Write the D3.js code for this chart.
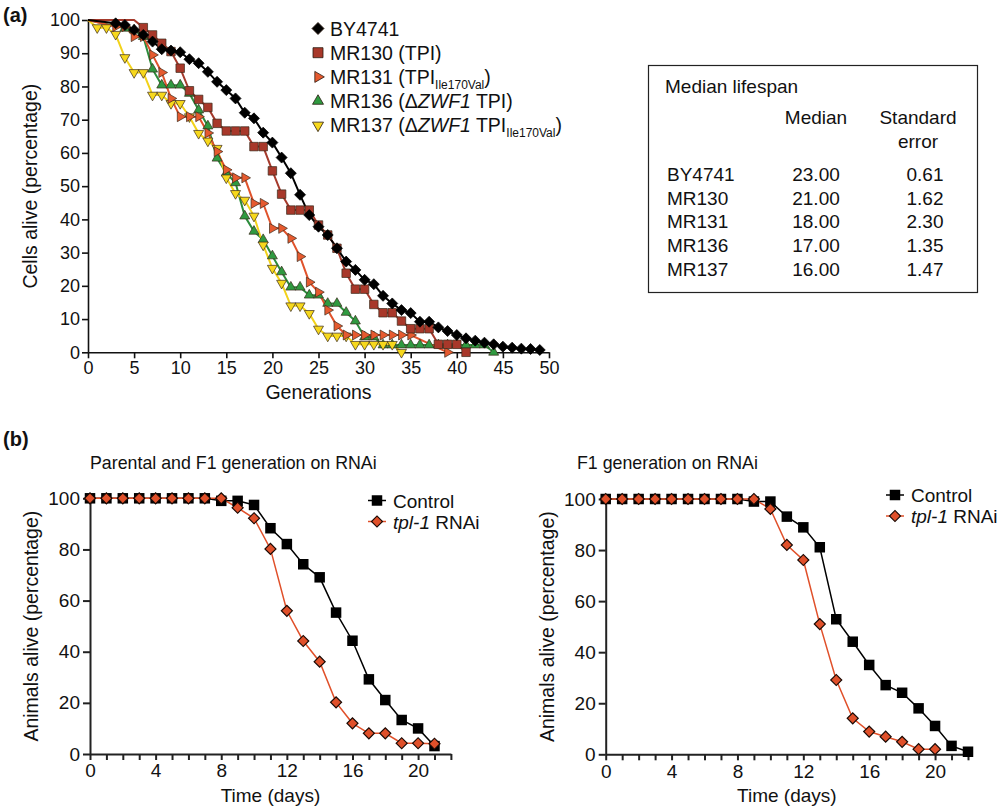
<!DOCTYPE html>
<html><head><meta charset="utf-8">
<script src="https://cdn.jsdelivr.net/npm/d3@7"></script>
<style>
body{margin:0;background:#fff}
text{font-family:"Liberation Sans",Arial,Helvetica,sans-serif;fill:#111}
</style>
</head><body>
<svg id="c" width="1000" height="807"></svg>
<script>
// ---------- Panel (a) data: [generation, % alive] ----------
const BY4741 = [[0,100],[3,99],[4,98.5],[5,97],[6,95.5],[7,93.5],[8,91.2],[9,90.8],[10,90.3],[11,88.2],[12,87],[13,84.4],[14,81.4],[15,78.9],[16,76.4],[17,72.1],[18,70.4],[19,66.1],[20,63.1],[21,58.6],[22,53.9],[23,47.4],[24,41.3],[25,37.8],[26,35.3],[27,31.3],[28,27.3],[29,24.8],[30,21.8],[31,20.5],[32,17],[33,14.7],[34,12.7],[35,11.8],[36,9.2],[37,9.2],[38,7.5],[39,6.4],[40,5.2],[41,4.2],[42,3.5],[43,2.9],[44,2.4],[45,1.7],[46,1.4],[47,1.1],[48,1.0],[49,0.7]];
const MR130 = [[0,100],[5,100],[6,97.7],[7,95.5],[8,93],[9,90.5],[10,85.5],[11,78.7],[12,76.1],[13,73.7],[14,68.9],[15,66.6],[16,66.6],[17,66.6],[18,61.9],[19,61.9],[20,54.6],[21,47.6],[22,42.8],[23,42.8],[24,42.8],[25,38.3],[26,35.3],[27,31.3],[28,23.8],[29,19],[30,19],[31,14.4],[32,11.9],[33,11.9],[34,9.4],[35,7.1],[36,7.1],[37,7.1],[38,2.4],[39,2.4],[40,2.4],[41,0]];
const MR131 = [[0,100],[3,98],[4,98],[5,95],[6,95],[7,89.5],[8,84.2],[9,76.4],[10,70.9],[11,70.9],[12,70.9],[13,66],[14,60.4],[15,54.9],[16,52.5],[17,52.5],[18,44.8],[19,44.8],[20,37.3],[21,37.3],[22,34.3],[23,28.8],[24,21.1],[25,18.1],[26,12.7],[27,7.9],[28,5.2],[29,5.2],[30,5.2],[31,5.2],[32,5.2],[33,5.2],[34,5.2],[35,5.2],[39,0]];
const MR136 = [[0,100],[4,97.5],[5,97],[6,95],[7,85.2],[8,80.4],[9,80.4],[10,80.4],[11,77.9],[12,72.9],[13,68.1],[14,58.4],[15,53.9],[16,51],[17,41],[18,36.4],[19,33.9],[20,29],[21,24.2],[22,19.6],[23,19.6],[24,17.2],[25,17.2],[26,14.7],[27,14.7],[28,12],[29,9.4],[30,4.6],[31,4.6],[32,2.2],[33,2.2],[34,2.2],[35,2.2],[36,2.2],[37,2.2],[38,2.2],[39,2.2],[40,2.2],[41,2.2],[42,2.2],[43,2.2],[44,0]];
const MR137 = [[0,100],[1,97.7],[2,97.7],[3,95.7],[4,88.7],[5,84.2],[6,84.2],[7,77.4],[8,77.4],[9,74.9],[10,74.9],[11,70.9],[12,65.9],[13,63.6],[14,61.4],[15,52.5],[16,47.8],[17,45.8],[18,41],[19,32.3],[20,25.3],[21,20.8],[22,14],[23,14],[24,11.7],[25,7],[26,4.9],[27,4.9],[28,4.9],[29,2.4],[30,2.4],[31,2.4],[32,2.4],[33,2.4],[34,0]];
const yTicksA = [0,10,20,30,40,50,60,70,80,90,100];
const xTicksA = [0,5,10,15,20,25,30,35,40,45,50];

// table
const tableStrains = ["BY4741","MR130","MR131","MR136","MR137"];
const tableMedian = ["23.00","21.00","18.00","17.00","16.00"];
const tableSE = ["0.61","1.62","2.30","1.35","1.47"];

// ---------- Panel (b) data ----------
const daysLeft = [0,1,2,3,4,5,6,7,8,9,10,11,12,13,14,15,16,17,18,19,20,21];
const controlLeft = [100,100,100,100,100,100,100,100,99,99,97.4,88.3,82.1,74.2,69.1,55.3,44.3,29.2,21.1,13.3,10,3.1];
const rnaiLeft = [100,100,100,100,100,100,100,100,100,96.3,92.2,80.2,56,44.2,36.1,20.2,12,8.1,8.1,4.2,4.2,4.0];
const daysRightControl = [0,1,2,3,4,5,6,7,8,9,10,11,12,13,14,15,16,17,18,19,20,21,22];
const controlRight = [100,100,100,100,100,100,100,100,100,99,99,93.1,88.9,81.1,52.9,44.1,35,27.1,24.1,18,11.1,3.3,1];
const daysRightRnai = [0,1,2,3,4,5,6,7,8,9,10,11,12,13,14,15,16,17,18,19,20];
const rnaiRight = [100,100,100,100,100,100,100,100,100,100,96.1,82,76.1,51,29.1,14.1,8.9,6.9,4.9,2,2];
const yTicksB = [0,20,40,60,80,100];

const svg = d3.select("#c");
const FONT = '"Liberation Sans",Arial,Helvetica,sans-serif';

function markerPath(kind, size){
  if(kind==="diamond") return d3.symbol(d3.symbolSquare, size*size/2)();
  if(kind==="square") return d3.symbol(d3.symbolSquare, size*size)();
  return d3.symbol(d3.symbolTriangle, size*size*0.433)();
}
function markerRot(kind){
  return {diamond:45, square:0, up:0, right:90, down:180}[kind];
}

// ================= Panel (a) =================
const xA = d3.scaleLinear().domain([0,50]).range([88,549]);
const yA = d3.scaleLinear().domain([0,100]).range([352.3,20]);

const gA = svg.append("g");
gA.append("text").attr("x",3).attr("y",22).attr("font-size",20).attr("font-weight","bold").text("(a)");

const axY = gA.append("g").attr("transform",`translate(${xA(0)},0)`)
  .call(d3.axisLeft(yA).tickValues(yTicksA).tickSize(6).tickSizeOuter(0).tickPadding(2));
const axX = gA.append("g").attr("transform",`translate(0,${yA(0)})`)
  .call(d3.axisBottom(xA).tickValues(xTicksA).tickSize(6).tickSizeOuter(0).tickPadding(3));
[axY,axX].forEach(a=>{
  a.selectAll("path,line").attr("stroke","#111").attr("stroke-width",1.6);
  a.selectAll("text").attr("font-size",18).attr("font-family",FONT).attr("fill","#111");
});
gA.append("text").attr("transform",`translate(37,${(yA(0)+yA(100))/2}) rotate(-90)`)
  .attr("text-anchor","middle").attr("font-size",19.5).text("Cells alive (percentage)");
gA.append("text").attr("x",(xA(0)+xA(50))/2).attr("y",399).attr("text-anchor","middle")
  .attr("font-size",19.5).text("Generations");

const seriesA = [
  {name:"MR136", data:MR136, color:"#2c8c3c", fill:"#2f9a40", kind:"up", size:10},
  {name:"MR137", data:MR137, color:"#f2d21a", fill:"#f7d81c", kind:"down", size:10},
  {name:"MR131", data:MR131, color:"#e0532c", fill:"#e65a2f", kind:"right", size:10},
  {name:"MR130", data:MR130, color:"#a53a2c", fill:"#a8382a", kind:"square", size:8.5},
  {name:"BY4741", data:BY4741, color:"#000", fill:"#000", kind:"diamond", size:11}
];
const lineA = d3.line().x(d=>xA(d[0])).y(d=>yA(d[1]));
seriesA.forEach(s=>{
  gA.append("path").datum(s.data).attr("d",lineA).attr("fill","none")
    .attr("stroke",s.color).attr("stroke-width",2);
});
seriesA.forEach(s=>{
  gA.selectAll(null).data(s.data.filter(d=>d[1]<100)).enter().append("path")
    .attr("d",markerPath(s.kind,s.size))
    .attr("transform",d=>`translate(${xA(d[0])},${yA(d[1])}) rotate(${markerRot(s.kind)})`)
    .attr("fill",s.fill).attr("stroke",s.kind==="diamond"?"#000":"#3a2a1a").attr("stroke-width",0.7);
});

// legend (a)
const legA = [
  {kind:"diamond", fill:"#000", size:12, parts:[["BY4741"]]},
  {kind:"square", fill:"#a8382a", size:10, parts:[["MR130 (TPI)"]]},
  {kind:"right", fill:"#e65a2f", size:11, parts:[["MR131 (TPI"],["Ile170Val","sub"],[")","up"]]},
  {kind:"up", fill:"#2f9a40", size:11, parts:[["MR136 (Δ"],["ZWF1","it"],[" TPI)"]]},
  {kind:"down", fill:"#f7d81c", size:11, parts:[["MR137 (Δ"],["ZWF1","it"],[" TPI"],["Ile170Val","sub"],[")","up"]]}
];
legA.forEach((r,i)=>{
  const cy = 28.5 + i*24.2;
  gA.append("path").attr("d",markerPath(r.kind,r.size))
    .attr("transform",`translate(318,${cy}) rotate(${markerRot(r.kind)})`)
    .attr("fill",r.fill).attr("stroke","#2a1a10").attr("stroke-width",0.8);
  const t = gA.append("text").attr("x",330).attr("y",cy+7).attr("font-size",19.5);
  r.parts.forEach(p=>{
    const ts = t.append("tspan").text(p[0]);
    if(p[1]==="sub") ts.attr("font-size",12).attr("dy",5);
    if(p[1]==="up") ts.attr("dy",-5);
    if(p[1]==="it") ts.attr("font-style","italic");
  });
});

// table box
const gT = svg.append("g");
gT.append("rect").attr("x",648.5).attr("y",65.5).attr("width",329).attr("height",227)
  .attr("fill","none").attr("stroke","#222").attr("stroke-width",1.2);
const TF = 19;
gT.append("text").attr("x",665).attr("y",93).attr("font-size",TF).text("Median lifespan");
gT.append("text").attr("x",816).attr("y",124).attr("text-anchor","middle").attr("font-size",TF).text("Median");
gT.append("text").attr("x",918).attr("y",124).attr("text-anchor","middle").attr("font-size",TF).text("Standard");
gT.append("text").attr("x",918).attr("y",148).attr("text-anchor","middle").attr("font-size",TF).text("error");
tableStrains.forEach((s,i)=>{
  const y = 181 + i*23.7;
  gT.append("text").attr("x",667).attr("y",y).attr("font-size",TF).text(s);
  gT.append("text").attr("x",816).attr("y",y).attr("text-anchor","middle").attr("font-size",TF).text(tableMedian[i]);
  gT.append("text").attr("x",925).attr("y",y).attr("text-anchor","middle").attr("font-size",TF).text(tableSE[i]);
});

// ================= Panel (b) =================
svg.append("text").attr("x",3).attr("y",446).attr("font-size",20).attr("font-weight","bold").text("(b)");

function panelB(opt){
  const g = svg.append("g");
  const x = d3.scaleLinear().domain([0,22]).range(opt.xr);
  const y = d3.scaleLinear().domain([0,100]).range(opt.yr);
  g.append("text").attr("x",opt.titleX).attr("y",469).attr("font-size",17.8).text(opt.title);
  const ay = g.append("g").attr("transform",`translate(${x(0)},0)`)
    .call(d3.axisLeft(y).tickValues(yTicksB).tickSize(7).tickSizeOuter(0).tickPadding(3));
  const ax = g.append("g").attr("transform",`translate(0,${y(0)})`)
    .call(d3.axisBottom(x).tickValues(d3.range(0,23)).tickFormat(d=>d%4===0?d:"").tickSize(6).tickSizeOuter(0).tickPadding(4));
  [ay,ax].forEach(a=>{
    a.selectAll("path,line").attr("stroke","#222").attr("stroke-width",2);
    a.selectAll("text").attr("font-size",19).attr("font-family",FONT).attr("fill","#111");
  });
  g.append("text").attr("transform",`translate(${opt.ylabX},${(y(0)+y(100))/2}) rotate(-90)`)
    .attr("text-anchor","middle").attr("font-size",19.5).text("Animals alive (percentage)");
  g.append("text").attr("x",(x(0)+x(22))/2).attr("y",802).attr("text-anchor","middle")
    .attr("font-size",19).text("Time (days)");
  const line = d3.line().x(d=>x(d[0])).y(d=>y(d[1]));
  const c = opt.cDays.map((d,i)=>[d,opt.cVals[i]]);
  const r = opt.rDays.map((d,i)=>[d,opt.rVals[i]]);
  g.append("path").datum(c).attr("d",line).attr("fill","none").attr("stroke","#000").attr("stroke-width",1.5);
  g.append("path").datum(r).attr("d",line).attr("fill","none").attr("stroke","#e0502a").attr("stroke-width",1.5);
  g.selectAll(null).data(c).enter().append("path").attr("d",markerPath("square",10.5))
    .attr("transform",d=>`translate(${x(d[0])},${y(d[1])})`).attr("fill","#000");
  g.selectAll(null).data(r).enter().append("path").attr("d",markerPath("diamond",11))
    .attr("transform",d=>`translate(${x(d[0])},${y(d[1])}) rotate(45)`)
    .attr("fill","#e0502a").attr("stroke","#1a0a05").attr("stroke-width",1.2);
  // legend
  const lx = opt.legX, ly = opt.legY;
  g.append("line").attr("x1",lx-9).attr("x2",lx+9).attr("y1",ly).attr("y2",ly).attr("stroke","#000").attr("stroke-width",1.5);
  g.append("path").attr("d",markerPath("square",10.5)).attr("transform",`translate(${lx},${ly})`).attr("fill","#000");
  g.append("text").attr("x",lx+16).attr("y",ly+7).attr("font-size",19).text("Control");
  const ly2 = ly+21;
  g.append("line").attr("x1",lx-9).attr("x2",lx+9).attr("y1",ly2).attr("y2",ly2).attr("stroke","#e0502a").attr("stroke-width",1.5);
  g.append("path").attr("d",markerPath("diamond",11)).attr("transform",`translate(${lx},${ly2}) rotate(45)`)
    .attr("fill","#e0502a").attr("stroke","#1a0a05").attr("stroke-width",1.2);
  const t = g.append("text").attr("x",lx+16).attr("y",ly2+7).attr("font-size",19);
  t.append("tspan").attr("font-style","italic").text("tpl-1");
  t.append("tspan").text(" RNAi");
}

panelB({xr:[90,450.9], yr:[754,498.3], title:"Parental and F1 generation on RNAi", titleX:90, ylabX:38,
  cDays:daysLeft, cVals:controlLeft, rDays:daysLeft, rVals:rnaiLeft, legX:377, legY:500.5});
panelB({xr:[605.7,968], yr:[754.3,499], title:"F1 generation on RNAi", titleX:577, ylabX:554,
  cDays:daysRightControl, cVals:controlRight, rDays:daysRightRnai, rVals:rnaiRight, legX:895, legY:495});
</script>
</body></html>
